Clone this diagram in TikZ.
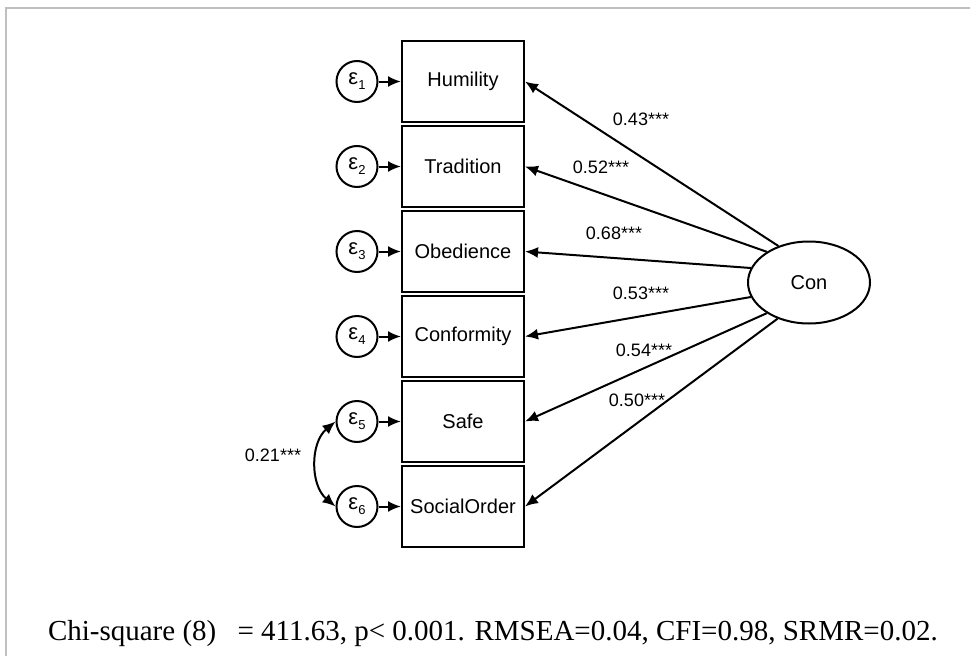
\documentclass[tikz,border=0pt]{standalone}
\usepackage{fontspec}
\setmainfont{Liberation Serif}
\newfontfamily\arialfont{Liberation Sans}
\usetikzlibrary{arrows.meta,shapes.geometric}
\begin{document}
\begin{tikzpicture}[x=1pt, y=-1pt, >={Latex[length=13pt,width=11pt]}, line width=2pt,
  obs/.style={draw, minimum width=122pt, minimum height=81pt, inner sep=0pt, font=\arialfont\fontsize{20}{24}\selectfont},
  err/.style={draw, circle, minimum size=41pt, inner sep=0pt, font=\arialfont\fontsize{22}{24}\selectfont},
  coef/.style={anchor=base, inner sep=0pt, font=\arialfont\fontsize{18}{20}\selectfont}]
\useasboundingbox (0,0) rectangle (970,656);
\draw[black!25] (5.5,656)--(5.5,8)--(970,8);

\foreach \i/\name in {1/Humility,2/Tradition,3/Obedience,4/Conformity,5/Safe,6/SocialOrder}
{
    \node[obs] (b\i) at (463,{81.5+85*(\i-1)}) {\name};
    \node[err] (e\i) at (357,{81.5+85*(\i-1)}) {ε\raisebox{-5pt}{\fontsize{13}{14}\selectfont\i}};
    \draw[->] (e\i)--(b\i);
}

\node[draw, ellipse, minimum width=122pt, minimum height=82pt, inner sep=0pt,
  font=\arialfont\fontsize{20}{24}\selectfont] (lat) at (809,282.5) {Con};
\foreach \i/\a in {1/130,2/144,3/166,4/194,5/216,6/229}
    \draw[->] (lat.\a)--(b\i.east);

% loadings
\node[coef] (l1) at (641,125) {0.43***};
\node[coef] (l2) at (601,173) {0.52***};
\node[coef] (l3) at (614,239) {0.68***};
\node[coef] (l4) at (641,299) {0.53***};
\node[coef] (l5) at (644,356) {0.54***};
\node[coef] (l6) at (637,406) {0.50***};

% residual covariance
\draw[<->] (e5.west) to[bend right=50] (e6.west);
\node[coef] (cv) at (273,461) {0.21***};

\node[anchor=base west, inner sep=0pt, font=\fontsize{29}{34}\selectfont] (fit) at (47,640)
  {Chi-square (8)\hspace{14pt} = 411.63, p< 0.001. RMSEA=0.04, CFI=0.98, SRMR=0.02.};
\end{tikzpicture}
\end{document}
